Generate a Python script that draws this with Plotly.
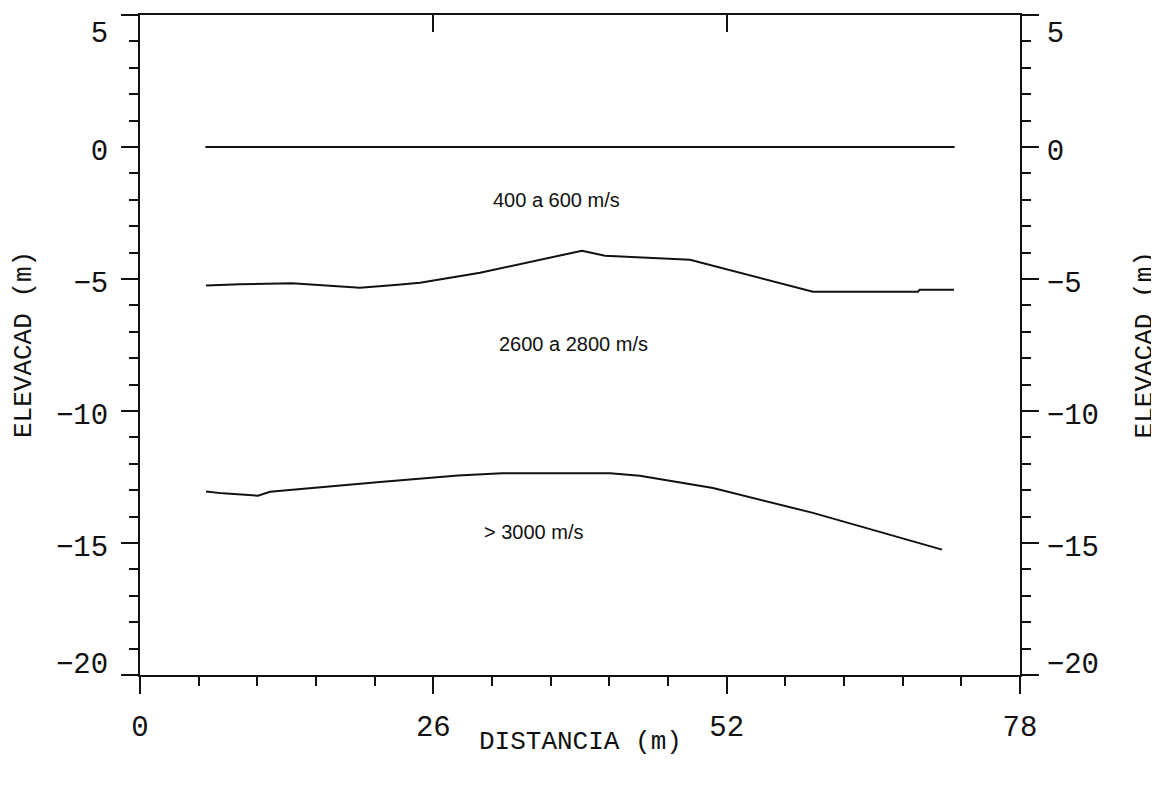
import plotly.graph_objects as go

# ---- data ----
line0_x = [5.8, 72.2]
line0_y = [0.0, 0.0]

line1_x = [5.85, 8.86, 13.47, 16.84, 19.50, 22.60, 24.82, 30.14, 34.57, 39.18,
           41.22, 43.61, 46.71, 48.75, 59.65, 68.96, 69.1, 72.15]
line1_y = [-5.25, -5.20, -5.16, -5.25, -5.33, -5.23, -5.14, -4.76, -4.34, -3.93,
           -4.12, -4.17, -4.25, -4.27, -5.48, -5.48, -5.41, -5.41]

line2_x = [5.85, 7.36, 10.46, 11.52, 21.27, 28.19, 32.09, 39.0, 41.66, 44.3,
           50.79, 59.65, 71.09]
line2_y = [-13.05, -13.12, -13.21, -13.06, -12.69, -12.44, -12.36, -12.36, -12.36,
           -12.45, -12.92, -13.86, -15.25]

label_text = ["400 a 600 m/s", "2600 a 2800 m/s", "> 3000 m/s"]
label_x = [36.9, 38.4, 34.9]
label_y = [-2.0, -7.48, -14.57]

x_range = [0, 78]
y_range = [-20, 5]
x_major = [0, 26, 52, 78]
y_major = [-20, -15, -10, -5, 0, 5]
y_ticktext = ["\u221220", "\u221215", "\u221210", "\u22125", "0", "5"]
# the original draws the end labels nudged inward from their ticks
y_label_pos = [-19.55, -15.1, -10.1, -5.1, -0.1, 4.35]

mono = "Liberation Mono"
tickfont = dict(family=mono, size=29, color="#111")
titlefont = dict(family=mono, size=26, color="#111")

fig = go.Figure()
for xs, ys in [(line0_x, line0_y), (line1_x, line1_y), (line2_x, line2_y)]:
    fig.add_trace(go.Scatter(x=xs, y=ys, mode="lines",
                             line=dict(color="#111", width=2), showlegend=False,
                             hoverinfo="skip"))
# invisible traces to activate secondary axes
for xa, ya in [("x2", "y"), ("x", "y2"), ("x", "y3"), ("x", "y4")]:
    fig.add_trace(go.Scatter(x=line0_x, y=line0_y, xaxis=xa, yaxis=ya, mode="lines",
                             line=dict(width=0), showlegend=False, hoverinfo="skip"))

for t, x, y in zip(label_text, label_x, label_y):
    fig.add_annotation(x=x, y=y, text=t, showarrow=False,
                       font=dict(family="Liberation Sans", size=20, color="#111"),
                       xanchor="center", yanchor="middle")

axis_common = dict(showgrid=False, zeroline=False, showline=True, linecolor="#111",
                   linewidth=2, automargin=False)
minor_y = dict(tick0=0, dtick=1, ticks="outside", ticklen=9, tickwidth=2,
               tickcolor="#111")

fig.update_layout(
    width=1151, height=777,
    margin=dict(l=132, r=139, t=7, b=110),
    plot_bgcolor="white", paper_bgcolor="white",
    showlegend=False,
    xaxis=dict(range=x_range, tickvals=x_major, ticks="outside", ticklen=17,
               tickwidth=2, tickcolor="#111", tickfont=tickfont,
               ticklabelstandoff=7, ticklabeloverflow="allow",
               minor=dict(tick0=0, dtick=5.2, ticks="outside", ticklen=9,
                          tickwidth=2, tickcolor="#111"),
               **axis_common),
    xaxis2=dict(range=x_range, overlaying="x", side="top", anchor="y",
                tickvals=[26, 52], ticks="inside", ticklen=17, tickwidth=2,
                tickcolor="#111", showticklabels=False, **axis_common),
    yaxis=dict(range=y_range, tickvals=y_major, ticks="outside", ticklen=17,
               tickwidth=2, tickcolor="#111", showticklabels=False,
               minor=minor_y, **axis_common),
    yaxis2=dict(range=y_range, overlaying="y", side="right", anchor="x",
                tickvals=y_major, ticks="outside", ticklen=17, tickwidth=2,
                tickcolor="#111", showticklabels=False, minor=minor_y,
                **axis_common),
    yaxis3=dict(range=y_range, overlaying="y", side="left", anchor="x",
                tickvals=y_label_pos, ticktext=y_ticktext, ticks="outside",
                ticklen=17, tickcolor="rgba(0,0,0,0)", tickfont=tickfont,
                ticklabelstandoff=8, ticklabeloverflow="allow",
                showgrid=False, zeroline=False, showline=False, automargin=False),
    yaxis4=dict(range=y_range, overlaying="y", side="right", anchor="x",
                tickvals=y_label_pos, ticktext=y_ticktext, ticks="outside",
                ticklen=17, tickcolor="rgba(0,0,0,0)", tickfont=tickfont,
                ticklabelstandoff=3, ticklabeloverflow="allow",
                showgrid=False, zeroline=False, showline=False, automargin=False),
)

fig.add_annotation(text="ELEVACAD (m)", xref="paper", yref="paper",
                   x=-0.1318, y=0.5, textangle=-90, showarrow=False,
                   font=titlefont, xanchor="center", yanchor="middle")
fig.add_annotation(text="ELEVACAD (m)", xref="paper", yref="paper",
                   x=1.1425, y=0.5, textangle=-90, showarrow=False,
                   font=titlefont, xanchor="center", yanchor="middle")
fig.add_annotation(text="DISTANCIA (m)", xref="paper", yref="paper",
                   x=0.5, y=-0.1015, showarrow=False,
                   font=titlefont, xanchor="center", yanchor="middle")

fig.write_html("out.html")
